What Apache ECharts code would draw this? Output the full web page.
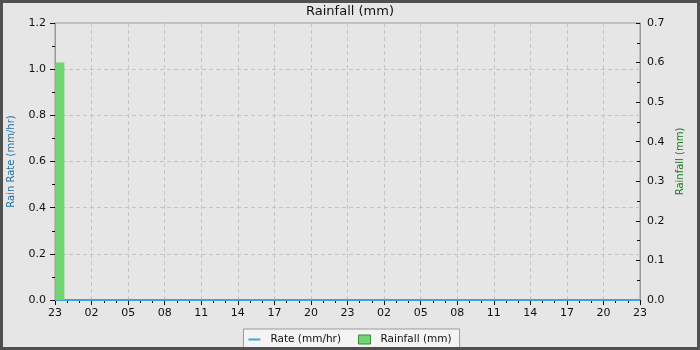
<!DOCTYPE html>
<html>
<head>
<meta charset="utf-8">
<script src="https://cdn.jsdelivr.net/npm/echarts@6/dist/echarts.min.js"></script>
<style>
html,body{margin:0;padding:0;background:#e6e6e6;}
#wrap{position:absolute;left:0;top:0;width:700px;height:350px;box-sizing:border-box;border:3px solid #505050;background:#e6e6e6;}
#chart{width:694px;height:344px;}
</style>
</head>
<body>
<div id="wrap"><div id="chart"></div></div>
<script>
// X axis: hours from start (23:00 day 1) to 23:00 day 3
const tickLabels = ['23','02','05','08','11','14','17','20','23','02','05','08','11','14','17','20','23'];
const xMin = 0, xMax = 48;
// Rain rate (mm/hr)
const rateHours = [0, 48];
const rateValues = [0, 0];
// Rainfall (mm)
const rainHours = [0.4];
const rainValues = [0.6];

const font = 'DejaVu Sans';
const chart = echarts.init(document.getElementById('chart'));
chart.setOption({
  animation: false,
  backgroundColor: '#e6e6e6',
  title: {
    text: 'Rainfall (mm)', left: 'center', top: -3,
    textStyle: {fontFamily: font, fontSize: 13, fontWeight: 'normal', color: '#111'}
  },
  grid: {
    left: 52, top: 20, width: 585, height: 277,
    outerBoundsMode: 'none', containLabel: false,
    show: true, borderColor: '#999', borderWidth: 1, backgroundColor: 'transparent'
  },
  legend: {
    left: 'center', bottom: -4,
    padding: [5, 8, 6, 5],
    backgroundColor: '#f4f4f4', borderColor: '#999', borderWidth: 1, borderRadius: 0,
    itemGap: 17, itemWidth: 12, itemHeight: 9,
    textStyle: {fontFamily: font, fontSize: 10.5, color: '#111', padding: [0, 0, 0, 5]},
    data: [
      {name: 'Rate (mm/hr)', icon: 'path://M0,0h12v2h-12z', itemStyle: {color: '#3fa4dd'}},
      {name: 'Rainfall (mm)', icon: 'rect', itemStyle: {color: '#70d670', borderColor: '#3a8a3a', borderWidth: 1}}
    ]
  },
  xAxis: {
    type: 'value', min: xMin, max: xMax, interval: 3,
    axisLine: {show: true, lineStyle: {color: '#999'}},
    axisTick: {show: true, length: 5, lineStyle: {color: '#111'}},
    minorTick: {show: true, splitNumber: 3, length: 3, lineStyle: {color: '#111'}},
    axisLabel: {
      margin: 8, fontFamily: font, fontSize: 11, color: '#111',
      formatter: v => tickLabels[Math.round(v / 3)]
    },
    splitLine: {show: true, lineStyle: {color: '#c4c4c4', type: [4, 3]}}
  },
  yAxis: [
    {
      type: 'value', min: 0, max: 1.2, interval: 0.2, position: 'left',
      name: 'Rain Rate (mm/hr)', nameLocation: 'middle', nameGap: 39,
      nameTextStyle: {fontFamily: font, fontSize: 10, color: '#1f6fa8'},
      axisLine: {show: true, lineStyle: {color: '#999'}},
      axisTick: {show: true, length: 5, lineStyle: {color: '#111'}},
      minorTick: {show: true, splitNumber: 2, length: 3, lineStyle: {color: '#111'}},
      axisLabel: {margin: 9, fontFamily: font, fontSize: 11, color: '#111', formatter: v => v.toFixed(1)},
      splitLine: {show: true, lineStyle: {color: '#c4c4c4', type: [4, 3]}}
    },
    {
      type: 'value', min: 0, max: 0.7, interval: 0.1, position: 'right',
      name: 'Rainfall (mm)', nameLocation: 'middle', nameGap: 32,
      nameTextStyle: {fontFamily: font, fontSize: 10, color: '#1a7a1a'},
      axisLine: {show: true, lineStyle: {color: '#999'}},
      axisTick: {show: true, inside: true, length: 4, lineStyle: {color: '#111'}},
      minorTick: {show: true, splitNumber: 2, length: 3, lineStyle: {color: '#111'}},
      axisLabel: {margin: 7, fontFamily: font, fontSize: 11, color: '#111', formatter: v => v.toFixed(1)},
      splitLine: {show: false}
    }
  ],
  series: [
    {
      name: 'Rate (mm/hr)', type: 'line', yAxisIndex: 0, showSymbol: false, symbol: 'none',
      lineStyle: {color: '#3fa4dd', width: 2}, itemStyle: {color: '#3fa4dd'}, z: 3,
      data: rateHours.map((h, i) => [h, rateValues[i]])
    },
    {
      name: 'Rainfall (mm)', type: 'bar', yAxisIndex: 1, barWidth: 9,
      itemStyle: {color: '#70d670'}, z: 4,
      data: rainHours.map((h, i) => [h, rainValues[i]])
    }
  ]
});
</script>
</body>
</html>
